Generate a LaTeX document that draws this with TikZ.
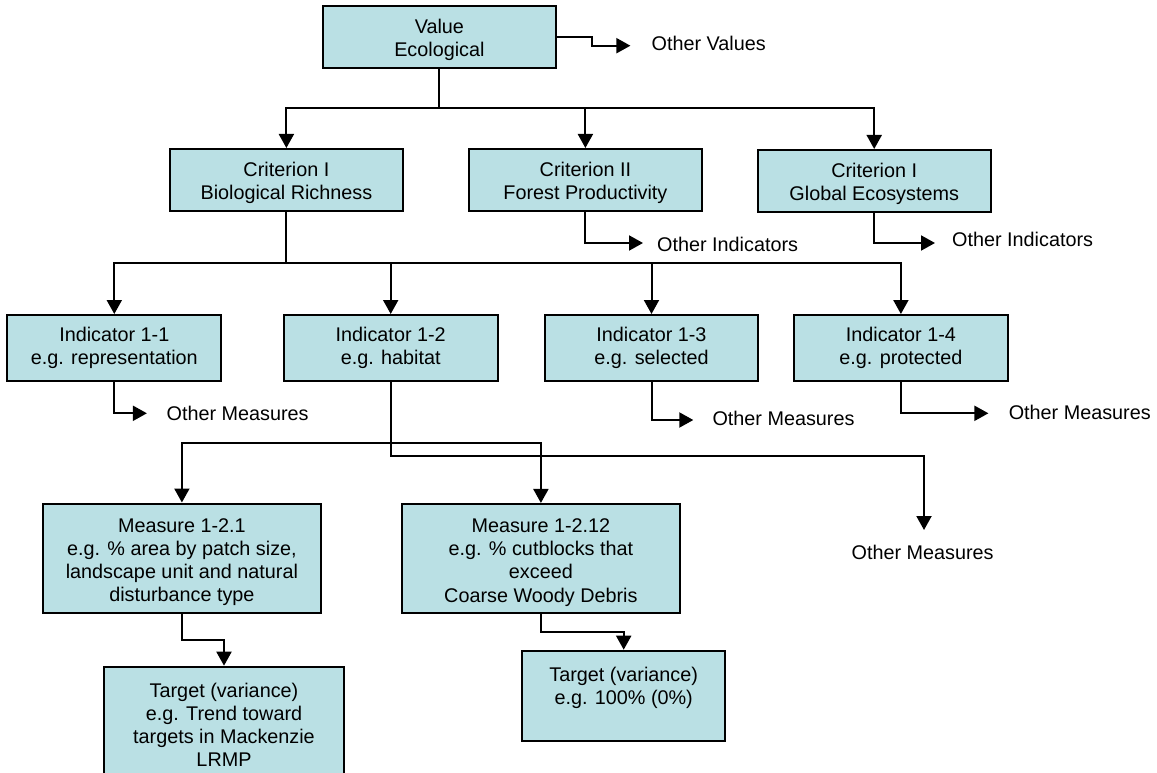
\documentclass[tikz,border=0pt]{standalone}
\usepackage{fontspec}
\setmainfont{Liberation Sans}
\usetikzlibrary{arrows.meta}
\definecolor{boxfill}{RGB}{186,224,228}
\newcommand{\lowr}[1]{\rule{0pt}{#1}}
\begin{document}
\begin{tikzpicture}[x=1pt,y=-1pt,
  txt/.style={font=\fontsize{19.8pt}{23.2pt}\selectfont},
  box/.style={draw=black, line width=2pt, fill=boxfill, inner sep=0pt, align=center, txt},
  lbl/.style={inner sep=0pt, anchor=west, txt},
  arr/.style={line width=2pt, -{Triangle[width=15pt,length=14pt]}}]
\useasboundingbox (0,0) rectangle (1157,773);
\fill[white] (0,0) rectangle (1157,773);

% boxes
\node[box, minimum width=232.7pt, minimum height=62.3pt] (val) at (439.4,37.2) {\lowr{20.5pt}Value\\Ecological};
\node[box, minimum width=232.3pt, minimum height=62pt] (c1) at (286.4,180) {\lowr{20.5pt}Criterion I\\Biological Richness};
\node[box, minimum width=232.6pt, minimum height=62pt] (c2) at (585.4,180) {\lowr{20.5pt}Criterion II\\Forest Productivity};
\node[box, minimum width=233pt, minimum height=62pt] (c3) at (874.2,181) {\lowr{20.5pt}Criterion I\\Global Ecosystems};
\node[box, minimum width=213.8pt, minimum height=66pt] (i1) at (114.3,348) {Indicator 1-1\\e.g. representation};
\node[box, minimum width=213.8pt, minimum height=66pt] (i2) at (390.7,348) {Indicator 1-2\\e.g. habitat};
\node[box, minimum width=213pt, minimum height=66pt] (i3) at (651.5,348) {Indicator 1-3\\e.g. selected};
\node[box, minimum width=213.3pt, minimum height=66pt] (i4) at (900.9,348) {Indicator 1-4\\e.g. protected};
\node[box, minimum width=278.4pt, minimum height=109.2pt] (m1) at (181.9,558.1) {\lowr{21.5pt}Measure 1-2.1\\e.g. \% area by patch size,\\landscape unit and natural\\disturbance type};
\node[box, minimum width=278.3pt, minimum height=109.3pt] (m2) at (540.9,558.6) {\lowr{21.5pt}Measure 1-2.12\\e.g. \% cutblocks that\\exceed\\Coarse Woody Debris};
\node[box, minimum width=240pt, minimum height=150pt] (t1) at (224,741.7) {};
\node[inner sep=0pt, align=center, txt] (t1txt) at (224,725) {Target (variance)\\e.g. Trend toward\\targets in Mackenzie\\LRMP};
\node[box, minimum width=202.7pt, minimum height=90pt] (t2) at (623.7,695.7) {};
\node[inner sep=0pt, align=center, txt] (t2txt) at (623.7,688) {Target (variance)\\e.g. 100\% (0\%)};

% side labels
\node[lbl] (ov) at (651.4,43) {Other Values};
\node[lbl] (oi1) at (657,244) {Other Indicators};
\node[lbl] (oi2) at (952,239) {Other Indicators};
\node[lbl] (om1) at (166.5,413) {Other Measures};
\node[lbl] (om3) at (712.3,418) {Other Measures};
\node[lbl] (om4) at (1008.6,412) {Other Measures};
\node[inner sep=0pt, txt] (om2) at (922.6,552) {Other Measures};

% free arrow ends
\coordinate (ovt) at (630.4,45.7);
\coordinate (oi1t) at (643,243);
\coordinate (oi2t) at (935,243);
\coordinate (om1t) at (146.9,413.3);
\coordinate (om3t) at (693.3,420);
\coordinate (om4t) at (988.4,413.3);
\coordinate (om2t) at (924,530);

% connectors
\draw[arr] (val.east) -- (592.4,37.2) -- (592.4,45.7) -- (ovt);
\draw[arr] (val.south) |- (c1.north |- 0,108) -- (c1.north);
\draw[arr] (val.south) |- (c2.north |- 0,108) -- (c2.north);
\draw[arr] (val.south) |- (c3.north |- 0,108) -- (c3.north);

\draw[arr] (c2.south) |- (oi1t);
\draw[arr] (c3.south) |- (oi2t);

\draw[arr] (c1.south) |- (i1.north |- 0,263) -- (i1.north);
\draw[arr] (c1.south) |- (i2.north |- 0,263) -- (i2.north);
\draw[arr] (c1.south) |- (i3.north |- 0,263) -- (i3.north);
\draw[arr] (c1.south) |- (i4.north |- 0,263) -- (i4.north);

\draw[arr] (i1.south) |- (om1t);
\draw[arr] (i3.south) |- (om3t);
\draw[arr] (i4.south) |- (om4t);

\draw[arr] (i2.south) |- (m1.north |- 0,442.5) -- (m1.north);
\draw[arr] (i2.south) |- (m2.north |- 0,442.5) -- (m2.north);
\draw[arr] (i2.south) |- (924,456) -- (om2t);

\draw[arr] (m1.south) |- (t1.north |- 0,640) -- (t1.north);
\draw[arr] (m2.south) |- (t2.north |- 0,631.7) -- (t2.north);
\end{tikzpicture}
\end{document}
